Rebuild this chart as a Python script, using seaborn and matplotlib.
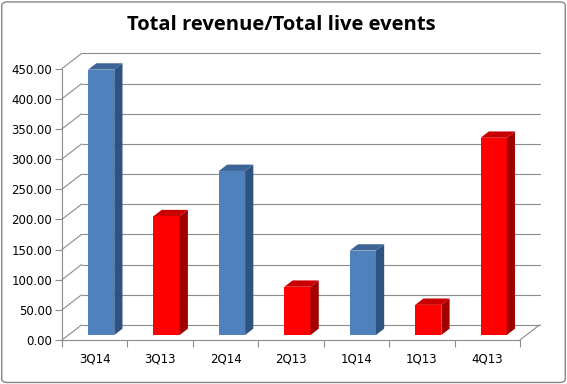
import numpy as np
import pandas as pd
import seaborn as sns
import matplotlib.pyplot as plt
from matplotlib.patches import Polygon, FancyBboxPatch

quarters = ['3Q14', '3Q13', '2Q14', '2Q13', '1Q14', '1Q13', '4Q13']
ratio = [440, 197, 272, 80, 140, 50, 327]
bar_colors = ['#4F81BD', '#FF0000', '#4F81BD', '#FF0000', '#4F81BD', '#FF0000', '#FF0000']
yticks = list(range(0, 451, 50))

# shading for the 3d look
top_shade = {'#4F81BD': '#3C6496', '#FF0000': '#C80000'}
side_shade = {'#4F81BD': '#2F5380', '#FF0000': '#A00000'}

df = pd.DataFrame({'quarter': quarters, 'ratio': ratio})

sns.set_style('white')
plt.rcParams['font.family'] = ['DejaVu Sans']

fig = plt.figure(figsize=(5.67, 3.84), dpi=100)
ax = fig.add_axes([0.1093, 0.1146, 0.8423, 0.7477])

# depth of the box (data units) and where the bars sit inside it
dx, dy = 0.3, 25.0
t1, t2 = 0.33, 0.75
grid_c = '#8C8C8C'

sns.barplot(data=df, x='quarter', y='ratio', hue='quarter', palette=bar_colors,
            width=0.4, legend=False, ax=ax, saturation=1, zorder=3)

n = len(quarters)
x0, x1 = -0.5, n - 0.5

# back wall gridlines and left wall diagonals
for v in yticks:
    ax.plot([x0 + dx, x1 + dx], [v + dy, v + dy], color=grid_c, lw=0.8, zorder=1, clip_on=False)
    ax.plot([x0, x0 + dx], [v, v + dy], color=grid_c, lw=0.8, zorder=1, clip_on=False)
# floor
ax.plot([x0, x1], [0, 0], color=grid_c, lw=0.8, zorder=1, clip_on=False)
ax.plot([x1, x1 + dx], [0, dy], color=grid_c, lw=0.8, zorder=1, clip_on=False)
ax.plot([x0, x0], [0, yticks[-1]], color=grid_c, lw=0.8, zorder=1, clip_on=False)

ddx, ddy = (t2 - t1) * dx, (t2 - t1) * dy
for p, c in zip(ax.patches, bar_colors):
    p.set_x(p.get_x() + t1 * dx)
    p.set_y(t1 * dy)
    p.set_edgecolor('none')
    bx0 = p.get_x()
    bx1 = bx0 + p.get_width()
    by0 = p.get_y()
    by1 = by0 + p.get_height()
    side = Polygon([(bx1, by0), (bx1 + ddx, by0 + ddy), (bx1 + ddx, by1 + ddy), (bx1, by1)],
                   closed=True, facecolor=side_shade[c], edgecolor='none', zorder=3)
    top = Polygon([(bx0, by1), (bx1, by1), (bx1 + ddx, by1 + ddy), (bx0 + ddx, by1 + ddy)],
                  closed=True, facecolor=top_shade[c], edgecolor='none', zorder=3)
    ax.add_patch(side)
    ax.add_patch(top)

ax.set_xlim(x0, x1 + dx)
ax.set_ylim(0, yticks[-1] + dy + 1)
for s in ax.spines.values():
    s.set_visible(False)

ax.set_yticks(yticks)
ax.set_yticklabels(['%.2f' % v for v in yticks], fontsize=8.5, color='black')
ax.tick_params(axis='y', length=5, width=0.8, color=grid_c, pad=2, left=True)
ax.set_xticks(range(n))
ax.set_xticklabels(quarters, fontsize=8.5, color='black')
ax.set_xticks(np.arange(x0, x1 + 0.01, 1), minor=True)
ax.tick_params(axis='x', which='major', length=0, pad=9)
ax.tick_params(axis='x', which='minor', length=5, width=0.8, color=grid_c, bottom=True)
ax.set_xlabel('')
ax.set_ylabel('')

fig.text(0.496, 0.935, 'Total revenue/Total live events', ha='center', va='center',
         fontsize=14.5, fontweight='bold', family='Open Sans', color='black')

border = FancyBboxPatch((0.003, 0.004), 0.994, 0.991, boxstyle='round,pad=0,rounding_size=0.01',
                        transform=fig.transFigure, facecolor='none', edgecolor='#878787', lw=1)
fig.patches.append(border)

fig.savefig('out.png', dpi=100)
